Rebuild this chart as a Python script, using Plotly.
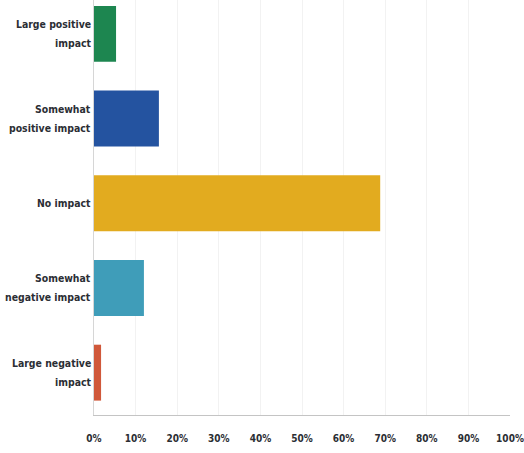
import plotly.graph_objects as go

# Survey responses: share of respondents per impact level (%)
categories = [
    "Large positive<br>impact",
    "Somewhat<br>positive impact",
    "No impact",
    "Somewhat<br>negative impact",
    "Large negative<br>impact",
]
shares = [5.3, 15.6, 68.8, 12.0, 1.7]
bar_colors = ["#1d8650", "#2453a0", "#e2ab1f", "#3f9db9", "#d0583a"]
tick_vals = [0, 10, 20, 30, 40, 50, 60, 70, 80, 90, 100]
tick_text = [f"{v}%" for v in tick_vals]

positions = list(range(len(categories)))

fig = go.Figure(
    go.Bar(
        x=shares,
        y=positions,
        orientation="h",
        marker=dict(color=bar_colors, line=dict(width=0)),
        width=0.66,
        hoverinfo="skip",
    )
)

label_font = dict(family="DejaVu Sans Condensed, sans-serif",
                  size=10.4, color="#2b2e34", weight="bold")
tick_font = dict(family="DejaVu Sans Condensed, sans-serif",
                 size=10, color="#2b2e34", weight="bold")

# Category labels, one annotation per text line for looser line spacing
line_gap = 19
annotations = []
for pos, label in zip(positions, categories):
    lines = label.split("<br>")
    n = len(lines)
    for k, line in enumerate(lines):
        annotations.append(dict(
            x=0, xref="paper", xanchor="right", xshift=-1,
            y=pos, yref="y", yanchor="middle",
            yshift=((n - 1) / 2 - k) * line_gap,
            text=line, showarrow=False, font=label_font,
        ))

fig.update_layout(
    width=524,
    height=453,
    margin=dict(l=94, r=14, t=0, b=38, autoexpand=False),
    paper_bgcolor="white",
    plot_bgcolor="white",
    showlegend=False,
    annotations=annotations,
    xaxis=dict(
        range=[0, 100],
        tickvals=tick_vals,
        ticktext=tick_text,
        tickfont=tick_font,
        showgrid=True,
        gridcolor="#f2f2f2",
        gridwidth=1,
        zeroline=False,
        showline=True,
        linecolor="#c4c4c4",
        linewidth=1,
        ticks="",
        ticklabelstandoff=14,
        automargin=False,
        fixedrange=True,
    ),
    yaxis=dict(
        range=[4.5, -0.4],
        tickvals=positions,
        showticklabels=False,
        showgrid=False,
        zeroline=False,
        showline=True,
        linecolor="#d6d6d6",
        linewidth=1,
        ticks="",
        automargin=False,
        fixedrange=True,
    ),
)

fig.write_html("out.html")
